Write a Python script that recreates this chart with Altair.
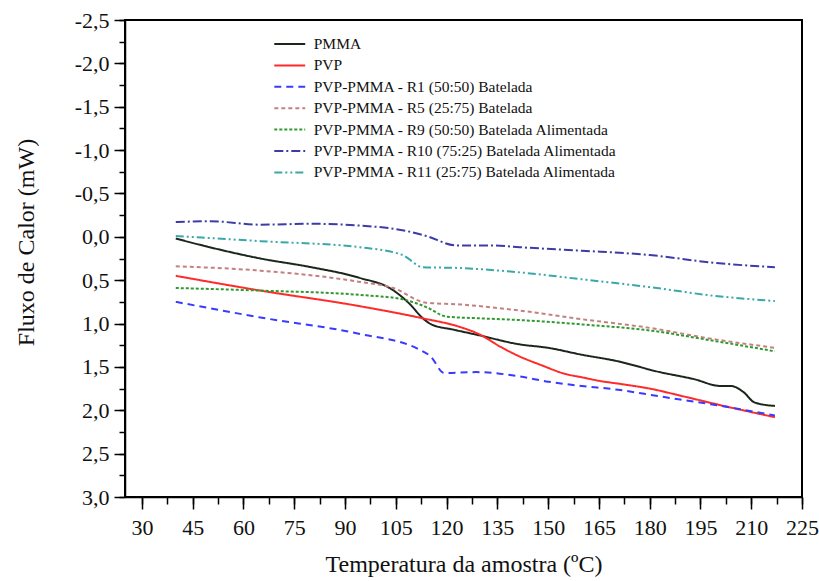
import altair as alt
import pandas as pd

series_names = [
    "PMMA",
    "PVP",
    "PVP-PMMA - R1 (50:50) Batelada",
    "PVP-PMMA - R5 (25:75) Batelada",
    "PVP-PMMA - R9 (50:50) Batelada Alimentada",
    "PVP-PMMA - R10 (75:25) Batelada Alimentada",
    "PVP-PMMA - R11 (25:75) Batelada Alimentada",
]
series_colors = ["#1c261c", "#ff2a2a", "#3a3aff", "#c48080", "#2e9a2e", "#3c3ca8", "#3aa8a8"]
series_dash = [[1, 0], [1, 0], [7, 5], [4, 3], [3, 2], [9, 3, 2, 3], [8, 3, 2, 3, 2, 3]]

pmma_x = [40, 50, 65, 80, 94, 104, 109, 113, 115.5, 122, 129, 141.6, 150, 160, 170, 183, 193, 201, 204, 207.7, 211, 217]
pmma_y = [0.02, 0.12, 0.25, 0.35, 0.47, 0.61, 0.77, 0.94, 1.01, 1.07, 1.13, 1.24, 1.28, 1.36, 1.43, 1.56, 1.64, 1.72, 1.72, 1.79, 1.91, 1.95]

pvp_x = [40, 65, 94.4, 113, 124, 130, 136, 141.6, 148, 155, 160, 165, 172, 180, 190, 203, 217]
pvp_y = [0.45, 0.62, 0.80, 0.94, 1.04, 1.13, 1.27, 1.38, 1.48, 1.58, 1.62, 1.66, 1.70, 1.75, 1.84, 1.96, 2.08]

r1_x = [40, 65, 94.4, 111.4, 115.3, 119.3, 128.8, 141.6, 150, 160, 170, 183, 198, 217]
r1_y = [0.75, 0.93, 1.12, 1.29, 1.38, 1.57, 1.56, 1.61, 1.67, 1.72, 1.76, 1.84, 1.93, 2.06]

r5_x = [40, 65, 94.4, 104.2, 114, 124, 141.6, 160, 180, 199, 217]
r5_y = [0.34, 0.39, 0.52, 0.59, 0.76, 0.78, 0.85, 0.95, 1.05, 1.18, 1.28]

r9_x = [40, 65, 94.4, 107, 114, 120, 130, 141.6, 160, 180, 199, 217]
r9_y = [0.59, 0.62, 0.67, 0.72, 0.81, 0.92, 0.94, 0.96, 1.01, 1.08, 1.20, 1.32]

r10_x = [40, 50, 65, 80, 94.4, 109, 114, 123, 134, 141.6, 160, 180, 199, 217]
r10_y = [-0.17, -0.18, -0.14, -0.15, -0.13, -0.06, -0.01, 0.10, 0.10, 0.12, 0.16, 0.21, 0.30, 0.35]

r11_x = [40, 65, 94.4, 107, 113, 124, 141.6, 160, 180, 199, 217]
r11_y = [-0.01, 0.05, 0.12, 0.21, 0.35, 0.36, 0.41, 0.49, 0.58, 0.68, 0.74]

x_major = [30, 45, 60, 75, 90, 105, 120, 135, 150, 165, 180, 195, 210, 225]
x_minor = [30 + 7.5 * i for i in range(27)]
y_major = [-2.5, -2.0, -1.5, -1.0, -0.5, 0.0, 0.5, 1.0, 1.5, 2.0, 2.5, 3.0]
y_minor = [-2.5 + 0.25 * i for i in range(23)]

all_x = [pmma_x, pvp_x, r1_x, r5_x, r9_x, r10_x, r11_x]
all_y = [pmma_y, pvp_y, r1_y, r5_y, r9_y, r10_y, r11_y]
rows = []
for name, xs, ys in zip(series_names, all_x, all_y):
    for i, (xv, yv) in enumerate(zip(xs, ys)):
        rows.append({"serie": name, "temp": xv, "fluxo": yv, "ordem": i})
df = pd.DataFrame(rows)

FONT = "Liberation Serif"
xscale = alt.Scale(domain=[25, 225], nice=False, zero=False)
yscale = alt.Scale(domain=[-2.5, 3.0], reverse=True, nice=False, zero=False)

ylabel = "(datum.value < 0 ? '-' : '') + replace(format(abs(datum.value), '.1f'), '.', ',')"

legend_opts = dict(title=None, orient="none", legendX=147, legendY=15,
                   symbolType="M-2,0H2", symbolSize=239, symbolStrokeWidth=2,
                   symbolFillColor="transparent", symbolOffset=8.75,
                   labelFontSize=15.5, labelFont=FONT, labelColor="#111111", rowPadding=3.4,
                   labelLimit=500, labelOffset=15)

main = alt.Chart(df).mark_line(strokeWidth=2, interpolate="monotone").encode(
    x=alt.X("temp:Q", scale=xscale,
            axis=alt.Axis(values=x_major, title="Temperatura da amostra (ºC)", orient="bottom",
                          tickSize=12, labelPadding=8, titlePadding=14, grid=False,
                          labelFontSize=22, titleFontSize=24, labelOverlap=False, labelFlush=False,
                          labelFont=FONT, titleFont=FONT, titleFontWeight="normal")),
    y=alt.Y("fluxo:Q", scale=yscale,
            axis=alt.Axis(values=y_major, title="Fluxo de Calor (mW)", orient="left",
                          labelExpr=ylabel, tickSize=11, labelPadding=5, titlePadding=36,
                          titleY=222,
                          grid=False, labelFontSize=22, titleFontSize=24, labelOverlap=False,
                          labelFlush=False,
                          labelFont=FONT, titleFont=FONT, titleFontWeight="normal")),
    color=alt.Color("serie:N", sort=series_names,
                    scale=alt.Scale(domain=series_names, range=series_colors),
                    legend=alt.Legend(**legend_opts)),
    strokeDash=alt.StrokeDash("serie:N", sort=series_names,
                              scale=alt.Scale(domain=series_names, range=series_dash),
                              legend=alt.Legend(**legend_opts)),
    order="ordem:Q",
)

minor = alt.Chart(df).mark_line(opacity=0).encode(
    x=alt.X("temp:Q", scale=xscale,
            axis=alt.Axis(values=x_minor, orient="bottom", labels=False, title=None,
                          tickSize=7, domain=False, grid=False)),
    y=alt.Y("fluxo:Q", scale=yscale,
            axis=alt.Axis(values=y_minor, orient="left", labels=False, title=None,
                          tickSize=6, domain=False, grid=False)),
    detail="serie:N",
    order="ordem:Q",
)

chart = alt.layer(minor, main).resolve_axis(x="independent", y="independent").properties(
    width=677, height=477,
    autosize=alt.AutoSizeParams(type="none"),
    padding={"left": 125, "top": 20, "right": 17, "bottom": 84},
    background="white",
).configure_view(stroke="#000000", strokeWidth=2).configure_axis(
    labelFont=FONT, titleFont=FONT, labelColor="#111111", titleColor="#111111",
    titleFontWeight="normal", domainColor="#000000", tickColor="#000000",
    domainWidth=1.5, tickWidth=1.5,
)

chart.save("out.html", embed_options={"renderer": "svg", "actions": False})
